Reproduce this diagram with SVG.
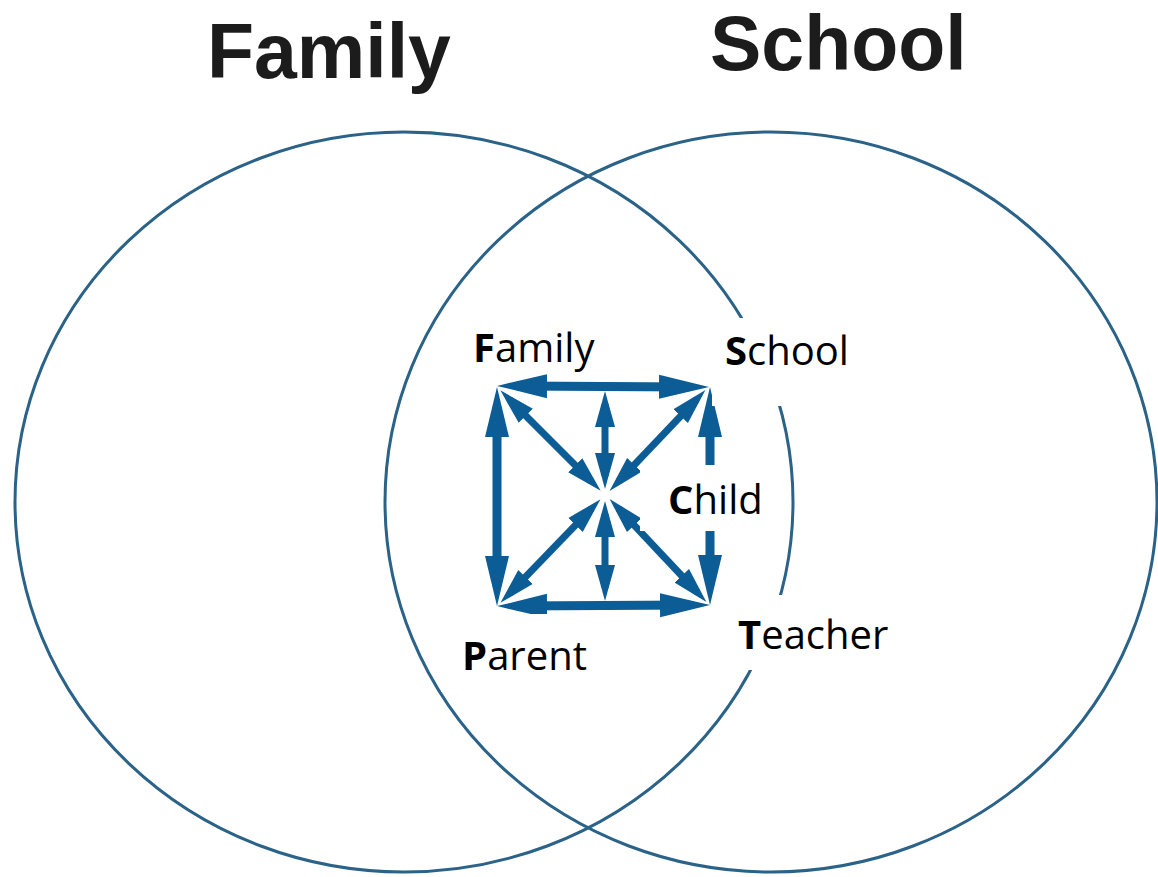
<svg xmlns="http://www.w3.org/2000/svg" width="1158" height="877" viewBox="0 0 1158 877">
  <style>
    .ring { fill: none; stroke: #2b6388; stroke-width: 3; }
    .title { font-family: "Liberation Sans", Arial, sans-serif; font-weight: 700; font-size: 77px; fill: #1c1c1c; }
    .lbl { font-family: "Open Sans", "Noto Sans", sans-serif; font-size: 40px; fill: #000; }
    .lbl tspan.b { font-weight: 700; }
    .mask { fill: #fff; }
    .edge { stroke: #0c5c95; stroke-width: 9; fill: none; marker-start: url(#bigHead); marker-end: url(#bigHead); }
    .spoke { stroke: #0c5c95; stroke-width: 7; fill: none; marker-start: url(#smallHead); marker-end: url(#smallHead); }
  </style>
  <defs>
    <marker id="bigHead" markerUnits="userSpaceOnUse" markerWidth="52" markerHeight="26" viewBox="0 -13 52 26" refX="30" refY="0" orient="auto-start-reverse">
      <path d="M0,-12 L50,0 L0,12 z" fill="#0c5c95"/>
    </marker>
    <marker id="smallHead" markerUnits="userSpaceOnUse" markerWidth="38" markerHeight="22" viewBox="0 -11 38 22" refX="23" refY="0" orient="auto-start-reverse">
      <path d="M0,-10 L36,0 L0,10 z" fill="#0c5c95"/>
    </marker>
  </defs>
  <rect width="1158" height="877" fill="#fff"/>

  <g id="title-family"><text class="title" x="207" y="78">Family</text></g>
  <g id="title-school"><text class="title" x="710" y="70">School</text></g>

  <g id="circle-family"><ellipse class="ring" cx="404" cy="502" rx="389" ry="370"/></g>
  <g id="circle-school"><ellipse class="ring" cx="771" cy="502" rx="386" ry="370"/></g>

  <g id="connectors">
    <line class="edge" x1="517" y1="386" x2="689" y2="387"/>
    <line class="edge" x1="497" y1="407" x2="497" y2="586"/>
    <line class="edge" x1="710" y1="407" x2="710" y2="585"/>
    <line class="edge" x1="517" y1="606" x2="690" y2="605"/>
    <line class="spoke" x1="509.5" y1="399.5" x2="591.5" y2="481.5"/>
    <line class="spoke" x1="696.5" y1="399.5" x2="618.5" y2="481.5"/>
    <line class="spoke" x1="509.5" y1="593.5" x2="591.5" y2="508.5"/>
    <line class="spoke" x1="697.5" y1="592.5" x2="618.5" y2="508.5"/>
    <line class="spoke" x1="605" y1="404" x2="605" y2="476"/>
    <line class="spoke" x1="605" y1="514" x2="605" y2="588"/>
  </g>

  <g id="node-family"><text class="lbl" x="473" y="362"><tspan class="b">F</tspan>amily</text></g>
  <g id="node-school">
    <rect class="mask" x="712" y="318" width="148" height="88"/>
    <text class="lbl" x="725" y="365"><tspan class="b">S</tspan>chool</text>
  </g>
  <g id="node-child">
    <rect class="mask" x="640" y="465" width="140" height="66"/>
    <text class="lbl" x="668" y="514"><tspan class="b">C</tspan>hild</text>
  </g>
  <g id="node-teacher">
    <rect class="mask" x="715" y="595" width="176" height="75"/>
    <text class="lbl" x="738" y="649"><tspan class="b">T</tspan>eacher</text>
  </g>
  <g id="node-parent">
    <rect class="mask" x="441" y="614" width="160" height="78"/>
    <rect class="mask" x="441" y="584" width="51" height="31"/>
    <text class="lbl" x="462" y="670"><tspan class="b">P</tspan>arent</text>
  </g>
</svg>
